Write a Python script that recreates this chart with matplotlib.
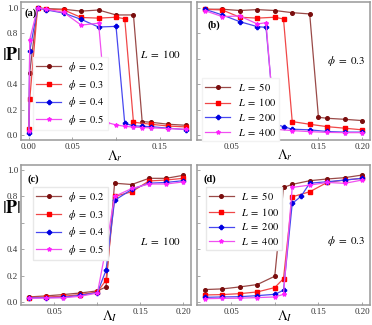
import matplotlib
matplotlib.use("Agg")
import matplotlib.pyplot as plt

plt.rcParams["font.family"] = ["Liberation Serif", "DejaVu Serif"]
plt.rcParams["mathtext.fontset"] = "stix"

# ---- data ----------------------------------------------------------------
# (a) |P| vs Lambda_r, L = 100
xa_02 = [0.0, 0.001, 0.01, 0.02, 0.04, 0.06, 0.08, 0.10, 0.12, 0.13, 0.14, 0.16, 0.18]
pa_02 = [0.04, 0.49, 1.0, 0.995, 0.99, 0.975, 0.984, 0.945, 0.945, 0.105, 0.10, 0.084, 0.076]
xa_03 = [0.0, 0.001, 0.01, 0.02, 0.04, 0.06, 0.08, 0.10, 0.11, 0.12, 0.14, 0.16, 0.18]
pa_03 = [0.045, 0.28, 1.0, 0.99, 0.985, 0.925, 0.92, 0.927, 0.915, 0.10, 0.084, 0.07, 0.063]
xa_04 = [0.0, 0.001, 0.01, 0.02, 0.04, 0.06, 0.08, 0.10, 0.11, 0.12, 0.13, 0.14, 0.16, 0.18]
pa_04 = [0.015, 0.66, 1.0, 0.985, 0.96, 0.91, 0.85, 0.855, 0.09, 0.072, 0.068, 0.065, 0.053, 0.042]
xa_05 = [0.0, 0.001, 0.01, 0.02, 0.04, 0.06, 0.08, 0.09, 0.10, 0.11, 0.12, 0.13, 0.14, 0.16, 0.18]
pa_05 = [0.03, 0.75, 1.0, 0.99, 0.965, 0.865, 0.88, 0.097, 0.079, 0.068, 0.062, 0.058, 0.056, 0.05, 0.044]

# (b) |P| vs Lambda_r, phi = 0.3
xb_50 = [0.02, 0.04, 0.06, 0.08, 0.10, 0.12, 0.14, 0.15, 0.16, 0.18, 0.20]
pb_50 = [0.99, 0.99, 0.98, 0.987, 0.98, 0.963, 0.953, 0.139, 0.131, 0.123, 0.113]
xb_100 = [0.02, 0.04, 0.06, 0.08, 0.10, 0.11, 0.12, 0.14, 0.16, 0.18, 0.20]
pb_100 = [0.99, 0.984, 0.927, 0.92, 0.927, 0.913, 0.105, 0.084, 0.065, 0.053, 0.04]
xb_200 = [0.02, 0.04, 0.06, 0.08, 0.09, 0.10, 0.11, 0.12, 0.14, 0.16, 0.18, 0.20]
pb_200 = [0.99, 0.945, 0.892, 0.853, 0.847, 0.087, 0.065, 0.045, 0.04, 0.027, 0.022, 0.022]
xb_400 = [0.02, 0.04, 0.06, 0.08, 0.09, 0.10, 0.12, 0.14, 0.16, 0.18, 0.20]
pb_400 = [0.979, 0.932, 0.937, 0.874, 0.884, 0.045, 0.034, 0.026, 0.02, 0.018, 0.018]

# (c) |P| vs Lambda_I, L = 100
xc = [0.02, 0.04, 0.06, 0.08, 0.10, 0.11, 0.12, 0.14, 0.16, 0.18, 0.20]
pc_02 = [0.038, 0.046, 0.056, 0.068, 0.084, 0.114, 0.90, 0.89, 0.937, 0.937, 0.96]
pc_03 = [0.033, 0.038, 0.043, 0.056, 0.076, 0.165, 0.80, 0.835, 0.917, 0.924, 0.937]
pc_04 = [0.030, 0.033, 0.035, 0.050, 0.071, 0.24, 0.77, 0.853, 0.90, 0.906, 0.919]
pc_05 = [0.028, 0.030, 0.032, 0.043, 0.068, 0.41, 0.80, 0.86, 0.894, 0.894, 0.91]

# (d) |P| vs Lambda_I, phi = 0.3
xd = [0.02, 0.04, 0.06, 0.08, 0.10, 0.11, 0.12, 0.14, 0.16, 0.18, 0.20]
pd_50 = [0.094, 0.099, 0.114, 0.132, 0.195, 0.868, 0.891, 0.919, 0.932, 0.942, 0.962]
pd_100 = [0.053, 0.056, 0.063, 0.076, 0.109, 0.177, 0.797, 0.835, 0.906, 0.924, 0.937]
xd_200 = [0.02, 0.04, 0.06, 0.08, 0.10, 0.11, 0.12, 0.13, 0.14, 0.16, 0.18, 0.20]
pd_200 = [0.035, 0.038, 0.040, 0.048, 0.058, 0.089, 0.747, 0.80, 0.90, 0.911, 0.924, 0.937]
pd_400 = [0.025, 0.027, 0.029, 0.033, 0.038, 0.058, 0.868, 0.886, 0.906, 0.899, 0.924]

phi_labels = [r"$\phi\ =\ 0.2$", r"$\phi\ =\ 0.3$", r"$\phi\ =\ 0.4$", r"$\phi\ =\ 0.5$"]
L_labels = [r"$L\ =\ 50$", r"$L\ =\ 100$", r"$L\ =\ 200$", r"$L\ =\ 400$"]

# ---- styling --------------------------------------------------------------
styles = [
    dict(color="#9a4a48", marker="o", ms=2.6, mfc="#7a0d0d", mec="#7a0d0d"),
    dict(color="#f04848", marker="s", ms=2.6, mfc="#ff0000", mec="#ff0000"),
    dict(color="#4848f0", marker="P", ms=3.0, mfc="#0000e0", mec="#0000e0"),
    dict(color="#f050f0", marker="*", ms=3.0, mfc="#ff20ff", mec="#ff20ff"),
]
spine_col = "#999999"

W, H = 372, 325
fig = plt.figure(figsize=(W / 100, H / 100), dpi=100)


def box(l, t, r, b):
    return [l / W, 1 - b / H, (r - l) / W, (b - t) / H]


ax_a = fig.add_axes(box(21, 2, 191, 140))
ax_b = fig.add_axes(box(197, 2, 370, 140))
ax_c = fig.add_axes(box(21, 165, 191, 305))
ax_d = fig.add_axes(box(197, 165, 370, 305))


def draw(ax, xs, ys, labels):
    for x, y, lab, st in zip(xs, ys, labels, styles):
        ax.plot(x, y, lw=0.9, label=lab, **st)


draw(ax_a, [xa_02, xa_03, xa_04, xa_05], [pa_02, pa_03, pa_04, pa_05], phi_labels)
draw(ax_b, [xb_50, xb_100, xb_200, xb_400], [pb_50, pb_100, pb_200, pb_400], L_labels)
draw(ax_c, [xc] * 4, [pc_02, pc_03, pc_04, pc_05], phi_labels)
draw(ax_d, [xd, xd, xd_200, xd], [pd_50, pd_100, pd_200, pd_400], L_labels)

ax_a.set_xlim(-0.009, 0.186)
ax_a.set_xticks([0.0, 0.05, 0.10, 0.15])
ax_a.set_xticklabels(["0.00", "0.05", "", "0.15"])
for ax in (ax_b, ax_c, ax_d):
    ax.set_xlim(0.011, 0.209)
    ax.set_xticks([0.05, 0.10, 0.15, 0.20])
    ax.set_xticklabels(["0.05", "", "0.15", "0.20"])

for ax in (ax_a, ax_b):
    ax.set_ylim(-0.04, 1.047)
for ax in (ax_c, ax_d):
    ax.set_ylim(-0.023, 1.038)

for ax in (ax_a, ax_b, ax_c, ax_d):
    ax.set_yticks([0.0, 0.2, 0.4, 0.6, 0.8, 1.0])
    for s in ax.spines.values():
        s.set_color(spine_col)
        s.set_linewidth(1.1)
    ax.tick_params(direction="in", length=2, width=0.6, color=spine_col,
                   labelsize=6.5, labelcolor="#333333", pad=2)

for ax in (ax_a, ax_c):
    ax.set_yticklabels(["0.0", "0.2", "0.4", "", "0.8", "1.0"])
    ax.set_ylabel(r"$|\mathbf{P}|$", fontsize=13, rotation=0, ha="center", va="center")
for ax in (ax_b, ax_d):
    ax.set_yticklabels([])

ax_a.yaxis.set_label_coords(-0.055, 0.61)
ax_c.yaxis.set_label_coords(-0.055, 0.69)

ax_a.set_xlabel(r"$\Lambda_r$", fontsize=10)
ax_b.set_xlabel(r"$\Lambda_r$", fontsize=10)
ax_c.set_xlabel(r"$\Lambda_I$", fontsize=10)
ax_d.set_xlabel(r"$\Lambda_I$", fontsize=10)
ax_a.xaxis.set_label_coords(0.55, -0.06)
ax_b.xaxis.set_label_coords(0.51, -0.05)
ax_c.xaxis.set_label_coords(0.52, -0.02)
ax_d.xaxis.set_label_coords(0.51, -0.02)

for ax, tag, pos in ((ax_a, "(a)", (0.02, 0.92)), (ax_b, "(b)", (0.06, 0.83)),
                     (ax_c, "(c)", (0.04, 0.90)), (ax_d, "(d)", (0.04, 0.90))):
    ax.text(pos[0], pos[1], tag, transform=ax.transAxes, fontsize=7.5,
            fontweight="bold", va="center", ha="left")

ax_a.text(0.94, 0.62, r"$L\ =\ 100$", transform=ax_a.transAxes, fontsize=8, ha="right", va="center")
ax_b.text(0.97, 0.57, r"$\phi\ =\ 0.3$", transform=ax_b.transAxes, fontsize=8, ha="right", va="center")
ax_c.text(0.94, 0.46, r"$L\ =\ 100$", transform=ax_c.transAxes, fontsize=8, ha="right", va="center")
ax_d.text(0.97, 0.46, r"$\phi\ =\ 0.3$", transform=ax_d.transAxes, fontsize=8, ha="right", va="center")

leg_kw = dict(fontsize=7.5, handlelength=2.4, labelspacing=0.35, borderpad=0.3,
              handletextpad=0.7, fancybox=False, framealpha=1.0)
ax_a.legend(loc="upper left", bbox_to_anchor=(0.04, 0.64), edgecolor="#f2f2f2", **leg_kw)
ax_b.legend(loc="upper left", bbox_to_anchor=(0.0, 0.49), edgecolor="#f2f2f2", **leg_kw)
ax_c.legend(loc="upper left", bbox_to_anchor=(0.04, 0.88), edgecolor="#e8e8e8", **leg_kw)
ax_d.legend(loc="upper left", bbox_to_anchor=(0.02, 0.88), edgecolor="#e8e8e8", **leg_kw)

fig.savefig("out.png", dpi=100)
